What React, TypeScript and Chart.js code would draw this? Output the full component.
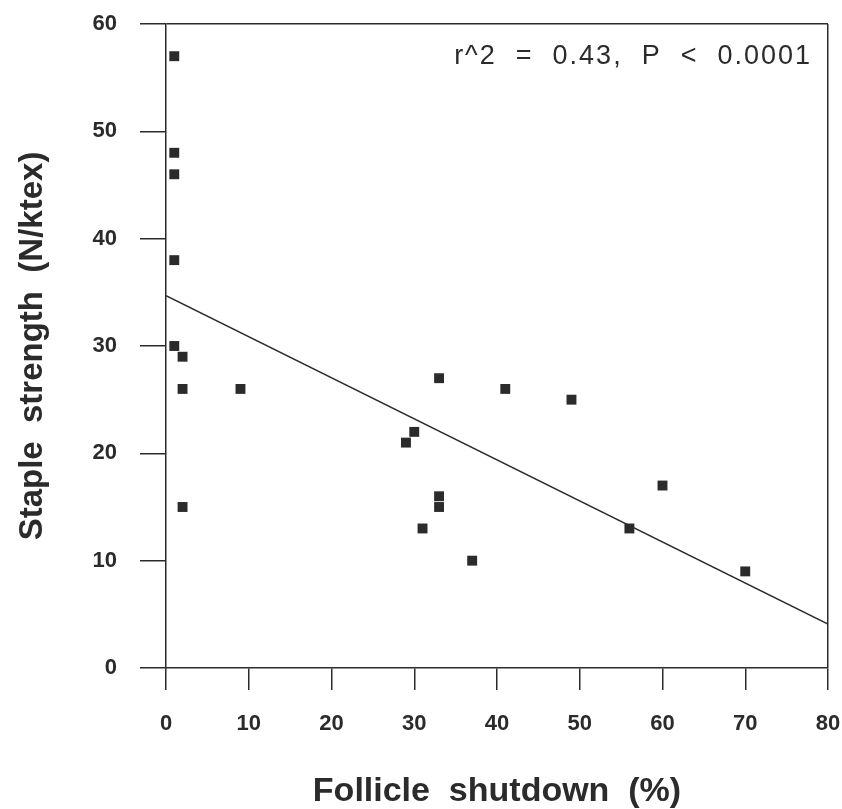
import React, { useEffect, useRef } from "react";
import { Chart, registerables } from "chart.js";

Chart.register(...registerables);

const shutdownPct: number[] = [1, 1, 1, 1, 1, 2, 2, 2, 9, 29, 30, 31, 33, 33, 33, 37, 41, 49, 56, 60, 70];
const stapleStrength: number[] = [57, 48, 46, 38, 30, 29, 26, 15, 26, 21, 22, 13, 27, 16, 15, 10, 26, 25, 13, 17, 9];
const fitX: number[] = [0, 80];
const fitY: number[] = [34.7, 4.1];
const xTicks: number[] = [0, 10, 20, 30, 40, 50, 60, 70, 80];
const yTicks: number[] = [0, 10, 20, 30, 40, 50, 60];
const annotationText = "r^2  =  0.43,  P  <  0.0001";
const xTitle = "Follicle  shutdown  (%)";
const yTitle = "Staple  strength  (N/ktex)";

const INK = "#2b2b2b";
const FAMILY = 'Arial, "Liberation Sans", Helvetica, sans-serif';

export default function App() {
  const ref = useRef<HTMLCanvasElement | null>(null);

  useEffect(() => {
    if (!ref.current) return;
    const annotate = {
      id: "annotate",
      afterDraw(chart: any) {
        const { ctx, chartArea } = chart;
        ctx.save();
        ctx.font = `27px ${FAMILY}`;
        (ctx as any).letterSpacing = "2px";
        ctx.fillStyle = INK;
        ctx.textAlign = "right";
        ctx.textBaseline = "middle";
        ctx.fillText(annotationText, chartArea.right - 16, chartArea.top + 33);
        ctx.restore();
      },
    };
    const chart = new Chart(ref.current, {
      type: "scatter",
      data: {
        datasets: [
          {
            label: "data",
            data: shutdownPct.map((x, i) => ({ x, y: stapleStrength[i] })),
            pointStyle: "rect",
            pointRadius: 7,
            pointHoverRadius: 7,
            backgroundColor: INK,
            borderColor: INK,
            borderWidth: 0,
          },
          {
            type: "line",
            label: "fit",
            data: fitX.map((x, i) => ({ x, y: fitY[i] })),
            showLine: true,
            pointRadius: 0,
            borderColor: INK,
            borderWidth: 1.5,
            fill: false,
          } as any,
        ],
      },
      options: {
        responsive: false,
        animation: false,
        events: [],
        layout: { padding: { top: 24, right: 14, left: 0, bottom: 0 } },
        plugins: { legend: { display: false }, tooltip: { enabled: false } },
        scales: {
          x: {
            type: "linear",
            min: 0,
            max: 80,
            afterBuildTicks: (s: any) => {
              s.ticks = xTicks.map((v) => ({ value: v }));
            },
            afterFit: (s: any) => {
              s.height = 141;
              s.paddingLeft = 0;
              s.paddingRight = 0;
            },
            border: { display: true, color: INK, width: 1.5 },
            grid: {
              drawOnChartArea: true,
              color: (c: any) => (c.tick && c.tick.value === 80 ? INK : "rgba(0,0,0,0)"),
              tickColor: INK,
              tickLength: 22,
              lineWidth: 1.5,
            },
            ticks: {
              color: INK,
              padding: 21,
              maxRotation: 0,
              font: { family: FAMILY, size: 22, weight: "bold" },
            },
            title: {
              display: true,
              text: xTitle,
              color: INK,
              padding: { top: 0, bottom: 0 },
              font: { family: FAMILY, size: 34, weight: "bold", lineHeight: 1 },
            },
          },
          y: {
            type: "linear",
            min: 0,
            max: 60,
            afterBuildTicks: (s: any) => {
              s.ticks = yTicks.map((v) => ({ value: v }));
            },
            afterFit: (s: any) => {
              s.width = 166;
              s.paddingTop = 0;
              s.paddingBottom = 0;
            },
            border: { display: true, color: INK, width: 1.5 },
            grid: {
              drawOnChartArea: true,
              color: (c: any) => (c.tick && c.tick.value === 60 ? INK : "rgba(0,0,0,0)"),
              tickColor: INK,
              tickLength: 26,
              lineWidth: 1.5,
            },
            ticks: {
              color: INK,
              padding: 23,
              font: { family: FAMILY, size: 22, weight: "bold" },
            },
            title: {
              display: true,
              text: yTitle,
              color: INK,
              padding: { top: 16, bottom: 0 },
              font: { family: FAMILY, size: 33, weight: "bold", lineHeight: 1 },
            },
          },
        },
      },
      plugins: [annotate],
    });
    return () => chart.destroy();
  }, []);

  return (
    <div style={{ position: "fixed", left: 0, top: 0, width: 842, height: 809, background: "#fff" }}>
      <canvas ref={ref} width={842} height={809} style={{ display: "block" }} />
    </div>
  );
}
